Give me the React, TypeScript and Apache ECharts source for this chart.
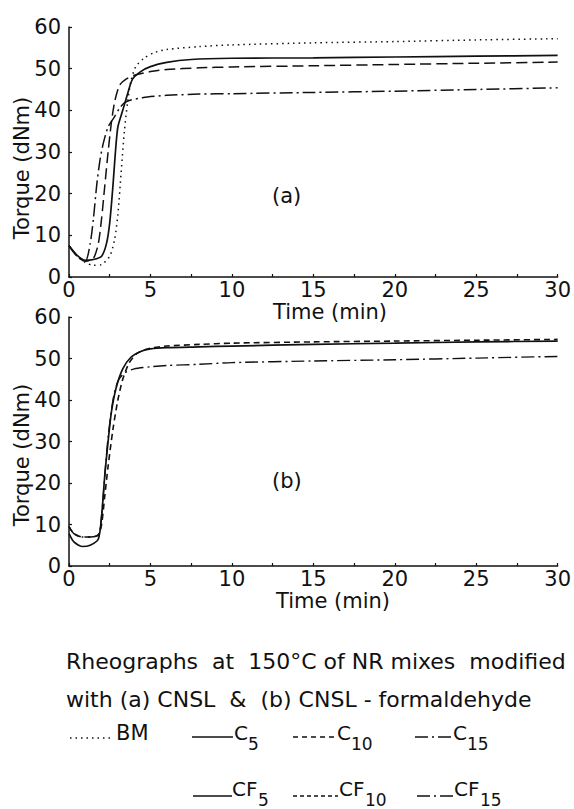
import React, { useEffect, useRef } from "react";
import * as echarts from "echarts";

// ---- data (time in min, torque in dNm) ----
const bmTime = [0, 0.5, 1, 1.5, 2, 2.5, 2.8, 3.0, 3.2, 3.4, 3.6, 3.8, 4.1, 4.6, 5.2, 6, 8, 10, 15, 20, 25, 30];
const bmTorque = [7.5, 5, 3.5, 2.8, 3, 5, 9, 15, 25, 35, 42, 47, 50.5, 52.5, 53.8, 54.6, 55.3, 55.7, 56.2, 56.5, 56.9, 57.2];

const c5Time = [0, 0.5, 1, 1.5, 2, 2.3, 2.5, 2.7, 2.85, 3.0, 3.3, 3.6, 3.9, 4.4, 5, 6, 7.5, 10, 15, 20, 25, 30];
const c5Torque = [7.5, 5.2, 4, 4.2, 5, 8, 13, 22, 30, 36, 40, 44, 47.5, 49.3, 50.5, 51.5, 52.2, 52.5, 52.6, 52.8, 53, 53.2];

const c10Time = [0, 0.5, 1, 1.5, 1.8, 2.0, 2.2, 2.4, 2.6, 2.8, 3.1, 3.5, 4, 5, 6, 8, 10, 15, 20, 25, 30];
const c10Torque = [7.5, 5, 3.8, 4.5, 8, 14, 22, 30, 37, 42, 46, 47.5, 48.4, 49.3, 49.8, 50.2, 50.4, 50.7, 51, 51.3, 51.6];

const c15Time = [0, 0.5, 1, 1.3, 1.5, 1.7, 1.9, 2.1, 2.4, 2.8, 3.1, 3.4, 3.8, 4.5, 5, 6, 8, 10, 15, 20, 25, 30];
const c15Torque = [7.5, 5, 3.8, 8, 14, 22, 28, 32, 36, 38.5, 40.5, 41.8, 42.5, 43, 43.3, 43.6, 43.9, 44, 44.3, 44.6, 45, 45.4];

const cf5Time = [0, 0.3, 0.8, 1.3, 1.8, 2.0, 2.2, 2.4, 2.6, 2.9, 3.3, 3.8, 4.4, 5, 6, 8, 10, 15, 20, 25, 30];
const cf5Torque = [7.8, 5.8, 4.7, 5, 6.5, 12, 22, 30, 37, 43, 47.5, 50.3, 51.7, 52.3, 52.6, 52.8, 53, 53.4, 53.7, 54, 54.2];

const cf10Time = [0, 0.3, 0.8, 1.3, 1.8, 2.0, 2.2, 2.4, 2.7, 3.0, 3.3, 3.7, 4.2, 5, 6, 8, 10, 15, 20, 25, 30];
const cf10Torque = [9.5, 7.8, 7, 7, 7.5, 10, 17, 24, 33, 40, 45, 49, 51.3, 52.5, 53, 53.4, 53.7, 54, 54.2, 54.4, 54.6];

const cf15Time = [0, 0.3, 0.8, 1.3, 1.8, 2.0, 2.2, 2.4, 2.7, 3.0, 3.4, 4, 5, 6, 8, 10, 15, 20, 25, 30];
const cf15Torque = [9.5, 7.8, 7, 7, 7.5, 12, 22, 31, 40, 44.5, 46.5, 47.5, 48, 48.3, 48.6, 49, 49.4, 49.7, 50.1, 50.5];

const xTicks = { min: 0, max: 30, interval: 2.5 };
const yTicks = { min: 0, max: 60, interval: 10 };

const FONT = "DejaVu Sans";
const INK = "#111";

const zip = (t: number[], v: number[]) => t.map((x, i) => [x, v[i]]);

const DOT = [1.5, 4];
const DASH = [11, 5];
const DASHDOT = [13, 4, 2, 4];
const DASH_B = [6, 4];

export default function App() {
  const ref = useRef<HTMLDivElement>(null);
  useEffect(() => {
    if (!ref.current) return;
    const chart = echarts.init(ref.current, null, { renderer: "svg" });

    const xAxisBase = (gridIndex: number) => ({
      type: "value",
      gridIndex,
      min: xTicks.min,
      max: xTicks.max,
      interval: xTicks.interval,
      axisLine: { show: true, lineStyle: { color: INK, width: 1.5 } },
      axisTick: { show: true, inside: true, length: 3, lineStyle: { color: INK, width: 1.2 } },
      axisLabel: {
        show: true,
        margin: 2,
        fontFamily: FONT,
        fontSize: 21,
        color: INK,
        formatter: (v: number) => (v % 5 === 0 ? String(v) : ""),
      },
      splitLine: { show: false },
    });
    const yAxisBase = (gridIndex: number) => ({
      type: "value",
      gridIndex,
      min: yTicks.min,
      max: yTicks.max,
      interval: yTicks.interval,
      axisLine: { show: true, lineStyle: { color: INK, width: 1.5 } },
      axisTick: { show: true, inside: true, length: 3, lineStyle: { color: INK, width: 1.2 } },
      axisLabel: { show: true, margin: 8, fontFamily: FONT, fontSize: 21, color: INK },
      splitLine: { show: false },
    });

    const line = (name: string, t: number[], v: number[], idx: number, dash: any, width = 1.6) => ({
      name,
      type: "line",
      xAxisIndex: idx,
      yAxisIndex: idx,
      data: zip(t, v),
      smooth: 0.25,
      symbol: "none",
      lineStyle: { color: INK, width, type: dash },
    });

    const txt = (text: string, x: number, y: number, size = 21, extra: any = {}) => ({
      type: "text",
      x,
      y,
      style: {
        text,
        fontFamily: FONT,
        fontSize: size,
        fill: INK,
        textAlign: "left",
        textVerticalAlign: "middle",
        ...extra,
      },
    });
    const seg = (x1: number, x2: number, y: number, dash: any, width = 1.4) => ({
      type: "line",
      shape: { x1, y1: y, x2, y2: y },
      style: { stroke: INK, lineWidth: width, lineDash: dash },
    });

    const r1 = 733;
    const r2 = 789;

    chart.setOption({
      animation: false,
      backgroundColor: "#fff",
      grid: [
        { left: 69, top: 27, width: 489, height: 250, containLabel: false },
        { left: 69, top: 317, width: 489, height: 249, containLabel: false },
      ],
      xAxis: [xAxisBase(0), xAxisBase(1)],
      yAxis: [yAxisBase(0), yAxisBase(1)],
      series: [
        line("BM", bmTime, bmTorque, 0, DOT, 1.5),
        line("C5", c5Time, c5Torque, 0, "solid", 1.7),
        line("C10", c10Time, c10Torque, 0, DASH, 1.5),
        line("C15", c15Time, c15Torque, 0, DASHDOT, 1.5),
        line("CF5", cf5Time, cf5Torque, 1, "solid", 1.7),
        line("CF10", cf10Time, cf10Torque, 1, DASH_B, 1.6),
        line("CF15", cf15Time, cf15Torque, 1, DASHDOT, 1.4),
      ],
      graphic: [
        { ...txt("Torque (dNm)", 22, 168, 21, { textAlign: "center" }), rotation: Math.PI / 2 },
        { ...txt("Torque (dNm)", 22, 455, 21, { textAlign: "center" }), rotation: Math.PI / 2 },
        txt("Time (min)", 330, 312, 21, { textAlign: "center" }),
        txt("Time (min)", 333, 601, 21, { textAlign: "center" }),
        txt("(a)", 272, 196, 21),
        txt("(b)", 272, 481, 21),
        txt("Rheographs  at  150°C of NR mixes  modified", 66, 661, 22),
        txt("with (a) CNSL  &  (b) CNSL - formaldehyde", 66, 699, 22),
        // legend row 1
        seg(70, 112, r1 + 5, DOT, 1.4),
        txt("BM", 116, r1, 21),
        seg(192, 233, r1 + 4, "solid", 1.4),
        txt("C", 234, r1, 20),
        txt("5", 248, r1 + 11, 17),
        seg(293, 336, r1 + 4, [5, 4], 1.3),
        txt("C", 337, r1, 20),
        txt("10", 351, r1 + 11, 17),
        seg(415, 452, r1 + 4, DASHDOT, 1.3),
        txt("C", 453, r1, 20),
        txt("15", 467, r1 + 11, 17),
        // legend row 2
        seg(193, 232, r2 + 7, "solid", 1.3),
        txt("CF", 232, r2, 20),
        txt("5", 258, r2 + 11, 17),
        seg(293, 338, r2 + 7, [4, 3], 1.3),
        txt("CF", 339, r2, 20),
        txt("10", 365, r2 + 11, 17),
        seg(417, 453, r2 + 7, DASHDOT, 1.3),
        txt("CF", 454, r2, 20),
        txt("15", 480, r2 + 11, 17),
      ],
    });
    return () => chart.dispose();
  }, []);

  return (
    <div
      ref={ref}
      style={{ position: "fixed", left: 0, top: 0, width: 574, height: 809, background: "#fff" }}
    />
  );
}
